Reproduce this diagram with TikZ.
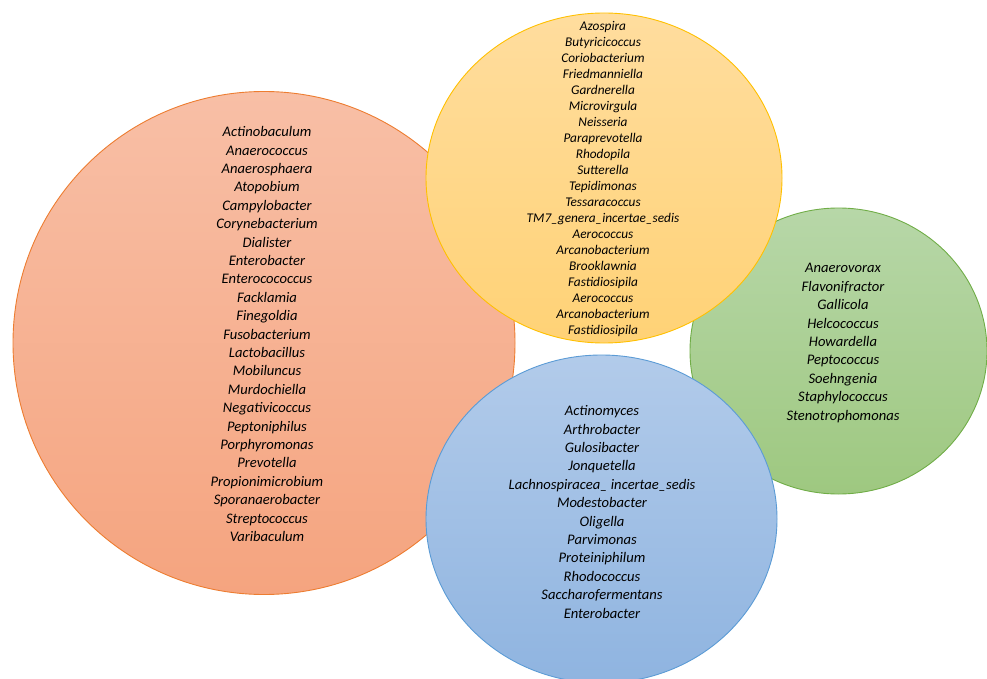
\documentclass[tikz,border=0pt]{standalone}
\usepackage{fontspec}
\setmainfont{Carlito}
\usetikzlibrary{shapes.geometric}

\definecolor{orangeTop}{RGB}{248,191,166}
\definecolor{orangeBottom}{RGB}{245,164,127}
\definecolor{orangeLine}{RGB}{237,125,49}
\definecolor{goldTop}{RGB}{255,221,158}
\definecolor{goldBottom}{RGB}{255,210,118}
\definecolor{goldLine}{RGB}{255,192,0}
\definecolor{greenTop}{RGB}{183,215,168}
\definecolor{greenBottom}{RGB}{158,200,128}
\definecolor{greenLine}{RGB}{112,173,71}
\definecolor{blueTop}{RGB}{178,203,234}
\definecolor{blueBottom}{RGB}{143,180,224}
\definecolor{blueLine}{RGB}{91,155,213}

\tikzstyle{group} = [ellipse, draw, line width=0.9pt, inner sep=0pt]
\tikzstyle{genera} = [align=center, inner sep=0pt, font=\itshape\fontsize{14.6}{18.4}\selectfont]
\tikzstyle{smallgenera} = [align=center, inner sep=0pt, font=\itshape\fontsize{13.3}{16.05}\selectfont]

\begin{document}
\begin{tikzpicture}[x=1pt, y=-1pt]
        \useasboundingbox (0,0) rectangle (987,679);
        % the four groups, back to front
        \node (orangeset) at (264,343) [group, minimum width=502pt, minimum height=503pt, draw=orangeLine, top color=orangeTop, bottom color=orangeBottom] {};
        \node (greenset) at (838.5,351) [group, minimum width=297pt, minimum height=286pt, draw=greenLine, top color=greenTop, bottom color=greenBottom] {};
        \node (goldset) at (604,178) [group, minimum width=356pt, minimum height=330pt, draw=goldLine, top color=goldTop, bottom color=goldBottom] {};
        \node (blueset) at (601.5,519) [group, minimum width=351pt, minimum height=328pt, draw=blueLine, top color=blueTop, bottom color=blueBottom] {};
        % genus lists
        \node (orangelist) at (267,334) [genera] {
            Actinobaculum\\ Anaerococcus\\ Anaerosphaera\\ Atopobium\\ Campylobacter\\ Corynebacterium\\ Dialister\\ Enterobacter\\ Enterocococcus\\ Facklamia\\ Finegoldia\\ Fusobacterium\\ Lactobacillus\\ Mobiluncus\\ Murdochiella\\ Negativicoccus\\ Peptoniphilus\\ Porphyromonas\\ Prevotella\\ Propionimicrobium\\ Sporanaerobacter\\ Streptococcus\\ Varibaculum
};
        \node (goldlist) at (603,179) [smallgenera] {
            Azospira\\ Butyricicoccus\\ Coriobacterium\\ Friedmanniella\\ Gardnerella\\ Microvirgula\\ Neisseria\\ Paraprevotella\\ Rhodopila\\ Sutterella\\ Tepidimonas\\ Tessaracoccus\\ TM7\_genera\_incertae\_sedis\\ Aerococcus\\ Arcanobacterium\\ Brooklawnia\\ Fastidiosipila\\ Aerococcus\\ Arcanobacterium\\ Fastidiosipila
};
        \node (greenlist) at (843,343) [genera] {
            Anaerovorax\\ Flavonifractor\\ Gallicola\\ Helcococcus\\ Howardella\\ Peptococcus\\ Soehngenia\\ Staphylococcus\\ Stenotrophomonas
};
        \node (bluelist) at (602,512) [genera] {
            Actinomyces\\ Arthrobacter\\ Gulosibacter\\ Jonquetella\\ Lachnospiracea\_ incertae\_sedis\\ Modestobacter\\ Oligella\\ Parvimonas\\ Proteiniphilum\\ Rhodococcus\\ Saccharofermentans\\ Enterobacter
};
    \end{tikzpicture}
\end{document}
